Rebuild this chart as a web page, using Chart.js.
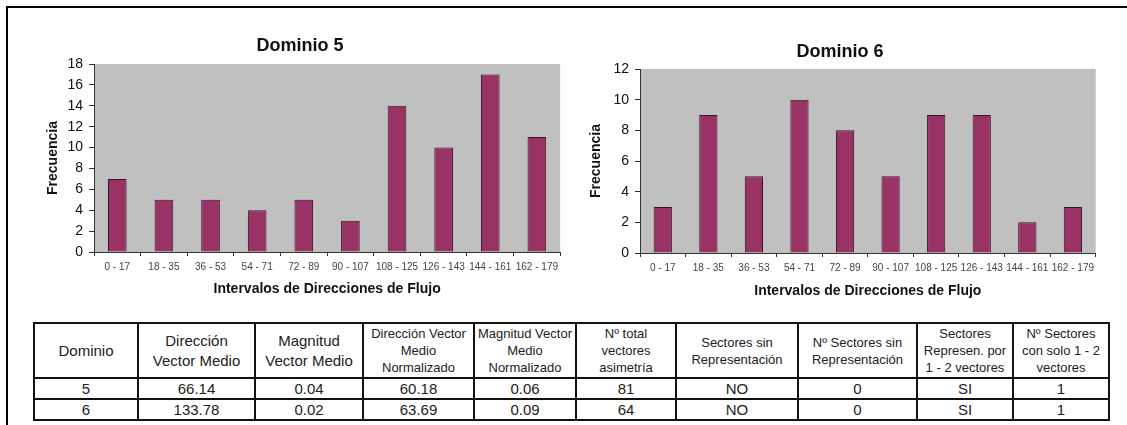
<!DOCTYPE html>
<html lang="es">
<head>
<meta charset="utf-8">
<title>Dominios 5 y 6</title>
<script src="https://cdn.jsdelivr.net/npm/chart.js@4.4.1/dist/chart.umd.min.js"></script>
<style>
  html, body { margin: 0; padding: 0; background: #fff; }
  body { width: 1127px; height: 425px; position: relative; overflow: hidden;
         font-family: "Liberation Sans", Arial, sans-serif; color: #222; }
  #frame { position: absolute; left: 6px; top: 6px; width: 1140px; height: 440px;
           border-top: 2px solid #000; border-left: 2px solid #000; }
  canvas { position: absolute; top: 0; }
  #chart5 { left: 37px; }
  #chart6 { left: 581px; }
  #resumen { position: absolute; left: 33px; top: 322px; border-collapse: collapse;
             table-layout: fixed; }
  #resumen td { border: 2px solid #111; text-align: center; vertical-align: middle;
                padding: 0; overflow: hidden; white-space: nowrap; }
  #resumen thead td { height: 53px; font-size: 13px; line-height: 17px; }
  #resumen thead td.big { font-size: 15px; line-height: 20px; }
  #resumen tbody td { height: 19px; font-size: 15px; line-height: 19px; }
</style>
</head>
<body>
<div id="frame"></div>
<canvas id="chart5" width="526" height="302"></canvas>
<canvas id="chart6" width="518" height="303"></canvas>
<table id="resumen"><colgroup id="cols"></colgroup><thead><tr id="head"></tr></thead><tbody id="rows"></tbody></table>

<script>
// Direction intervals (degrees) shared by both histograms
const intervalos = ['0 - 17', '18 - 35', '36 - 53', '54 - 71', '72 - 89',
                    '90 - 107', '108 - 125', '126 - 143', '144 - 161', '162 - 179'];

// Frequency of vectors per interval
const frecuenciaDominio5 = [7, 5, 5, 4, 5, 3, 14, 10, 17, 11];
const frecuenciaDominio6 = [3, 9, 5, 10, 8, 5, 9, 9, 2, 3];

// Y-axis ranges
const maxDominio5 = 18;
const maxDominio6 = 12;
const pasoEjeY = 2;

// Summary table
const encabezados = [
  ['Dominio'], ['Dirección', 'Vector Medio'], ['Magnitud', 'Vector Medio'],
  ['Dirección Vector', 'Medio', 'Normalizado'], ['Magnitud Vector', 'Medio', 'Normalizado'],
  ['Nº total', 'vectores', 'asimetría'], ['Sectores sin', 'Representación'],
  ['Nº Sectores sin', 'Representación'], ['Sectores', 'Represen. por', '1 - 2 vectores'],
  ['Nº Sectores', 'con solo 1 - 2', 'vectores']
];
const dominios = ['5', '6'];
const direccionVectorMedio = ['66.14', '133.78'];
const magnitudVectorMedio = ['0.04', '0.02'];
const direccionNormalizada = ['60.18', '63.69'];
const magnitudNormalizada = ['0.06', '0.09'];
const totalVectores = ['81', '64'];
const sectoresSinRep = ['NO', 'NO'];
const numSectoresSinRep = ['0', '0'];
const sectoresUnoDos = ['SI', 'SI'];
const numSectoresUnoDos = ['1', '1'];

const anchosColumnas = [104, 117, 108, 111, 102, 100, 122, 119, 96, 96];

// ---- table ----
const cols = document.getElementById('cols');
anchosColumnas.forEach(w => {
  const c = document.createElement('col'); c.style.width = w + 'px'; cols.appendChild(c);
});
document.getElementById('resumen').style.width = anchosColumnas.reduce((a, b) => a + b, 0) + 'px';
const head = document.getElementById('head');
encabezados.forEach((lines, i) => {
  const td = document.createElement('td');
  if (i < 3) td.className = 'big';
  td.innerHTML = lines.join('<br>');
  head.appendChild(td);
});
const columnas = [dominios, direccionVectorMedio, magnitudVectorMedio, direccionNormalizada,
  magnitudNormalizada, totalVectores, sectoresSinRep, numSectoresSinRep, sectoresUnoDos, numSectoresUnoDos];
const tbody = document.getElementById('rows');
dominios.forEach((_, r) => {
  const tr = document.createElement('tr');
  columnas.forEach(col => {
    const td = document.createElement('td'); td.textContent = col[r]; tr.appendChild(td);
  });
  tbody.appendChild(tr);
});

// ---- charts ----
const FONT = '"Liberation Sans", Arial, sans-serif';

const plotBackground = {
  id: 'plotBackground',
  beforeDraw(chart) {
    const { ctx, chartArea: a } = chart;
    ctx.save();
    ctx.fillStyle = '#c0c0c0';
    ctx.fillRect(a.left, a.top, a.right - a.left, a.bottom - a.top);
    ctx.restore();
  }
};

function histograma(id, titulo, valores, maxY, lay) {
  return new Chart(document.getElementById(id), {
    type: 'bar',
    data: {
      labels: intervalos,
      datasets: [{
        data: valores,
        backgroundColor: '#993366',
        borderColor: '#3a1226',
        borderWidth: 1,
        barPercentage: 0.4,
        categoryPercentage: 1.0
      }]
    },
    plugins: [plotBackground],
    options: {
      responsive: false,
      animation: false,
      layout: { padding: 0 },
      plugins: {
        legend: { display: false },
        tooltip: { enabled: false },
        title: {
          display: true,
          text: titulo,
          color: '#111',
          font: { family: FONT, size: 18, weight: 'bold' },
          padding: { top: lay.titleTop, bottom: lay.titleBottom }
        }
      },
      scales: {
        x: {
          offset: true,
          afterFit: s => { s.height = 50; },
          grid: { offset: true, drawOnChartArea: false, drawTicks: true, tickLength: 4, color: '#333' },
          border: { display: true, color: '#333', width: 1 },
          ticks: { color: '#444', font: { family: FONT, size: 10 }, padding: 5, maxRotation: 0, autoSkip: false },
          title: {
            display: true, text: 'Intervalos de Direcciones de Flujo', color: '#111',
            font: { family: FONT, size: 14, weight: 'bold' },
            padding: { top: 0, bottom: lay.xTitleBottom }
          }
        },
        y: {
          min: 0, max: maxY,
          afterFit: s => { s.width = lay.yWidth; },
          grid: { drawOnChartArea: false, drawTicks: true, tickLength: 5, color: '#333' },
          border: { display: true, color: '#333', width: 1 },
          ticks: { stepSize: pasoEjeY, color: '#111', font: { family: FONT, size: 14 }, padding: 6 },
          title: {
            display: true, text: 'Frecuencia', color: '#111',
            font: { family: FONT, size: 14, weight: 'bold' },
            padding: { top: lay.yTitleTop, bottom: 0 }
          }
        }
      }
    }
  });
}

histograma('chart5', 'Dominio 5', frecuenciaDominio5, maxDominio5,
  { titleTop: 35.2, titleBottom: 7.2, yWidth: 57, yTitleTop: 7.6, xTitleBottom: 4.6 });
histograma('chart6', 'Dominio 6', frecuenciaDominio6, maxDominio6,
  { titleTop: 41.2, titleBottom: 6.2, yWidth: 59, yTitleTop: 6.6, xTitleBottom: 3.6 });
</script>
</body>
</html>
